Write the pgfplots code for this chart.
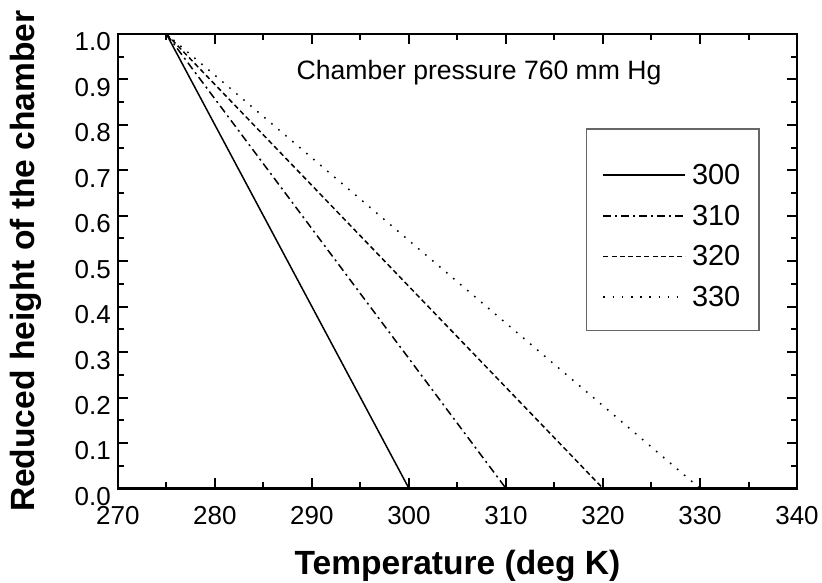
\documentclass[border=0pt]{standalone}
\usepackage{fontspec}
\setmainfont{Liberation Sans}
\usepackage{pgfplots}
\pgfplotsset{compat=1.18}

\begin{document}
\begin{tikzpicture}
\path[use as bounding box] (-59pt,-47pt) rectangle (352.5pt,244.5pt);
\begin{axis}[
  at={(0,0)}, anchor=south west,
  width=340pt, height=227.5pt,
  scale only axis,
  xmin=270, xmax=340,
  ymin=0, ymax=1,
  xtick={270,280,...,340},
  ytick={0,0.1,...,1.0},
  minor x tick num=1,
  minor y tick num=1,
  tick align=inside,
  major tick length=5pt,
  minor tick length=3pt,
  every tick/.style={black, line width=1pt},
  axis line style={line width=1.2pt},
  /pgf/number format/assume math mode=true,
  /pgf/number format/1000 sep={},
  yticklabel style={/pgf/number format/fixed, /pgf/number format/precision=1,
    /pgf/number format/fixed zerofill, yshift=-4pt},
  tick label style={font=\fontsize{13}{15}\selectfont},
  xticklabel style={yshift=-5.5pt},
  xlabel={Temperature (deg K)},
  ylabel={Reduced height of the chamber},
  label style={font=\fontsize{16.8}{19}\selectfont\bfseries},
  xlabel style={at={(axis description cs:0.5,-0.171)}, anchor=center},
  ylabel style={at={(axis description cs:-0.135,0.5)}, anchor=center},
  legend image code/.code={\draw[#1] (0pt,0pt) -- (41pt,0pt);},
  legend style={at={(rel axis cs:0.7132,0.7154)}, anchor=north west,
    draw=none, fill=none, inner sep=0pt,
    nodes={inner sep=1pt, text height=9.5pt, text depth=0pt,
      font=\fontsize{14.5}{16}\selectfont},
    cells={anchor=west}, column sep=2pt, row sep=8.85pt},
  clip=false,
]
\draw[gray!80!black, line width=0.6pt] (rel axis cs:0.6897,0.791) rectangle (rel axis cs:0.944,0.347);
\node[anchor=west, font=\fontsize{13.3}{15}\selectfont] at (rel axis cs:0.2529,0.9143) {Chamber pressure 760 mm Hg};

\addplot[black, line width=0.75pt] coordinates {(275,1) (300,0)};
\addplot[black, line width=0.75pt, dash pattern=on 4pt off 2pt on 1pt off 2pt] coordinates {(275,1) (310,0)};
\addplot[black, line width=0.75pt, dash pattern=on 2.5pt off 1.6pt] coordinates {(275,1) (320,0)};
\addplot[black, line width=0.75pt, dash pattern=on 0.8pt off 3.8pt] coordinates {(275,1) (330,0)};
\legend{300,310,320,330}
\end{axis}
\end{tikzpicture}
\end{document}
